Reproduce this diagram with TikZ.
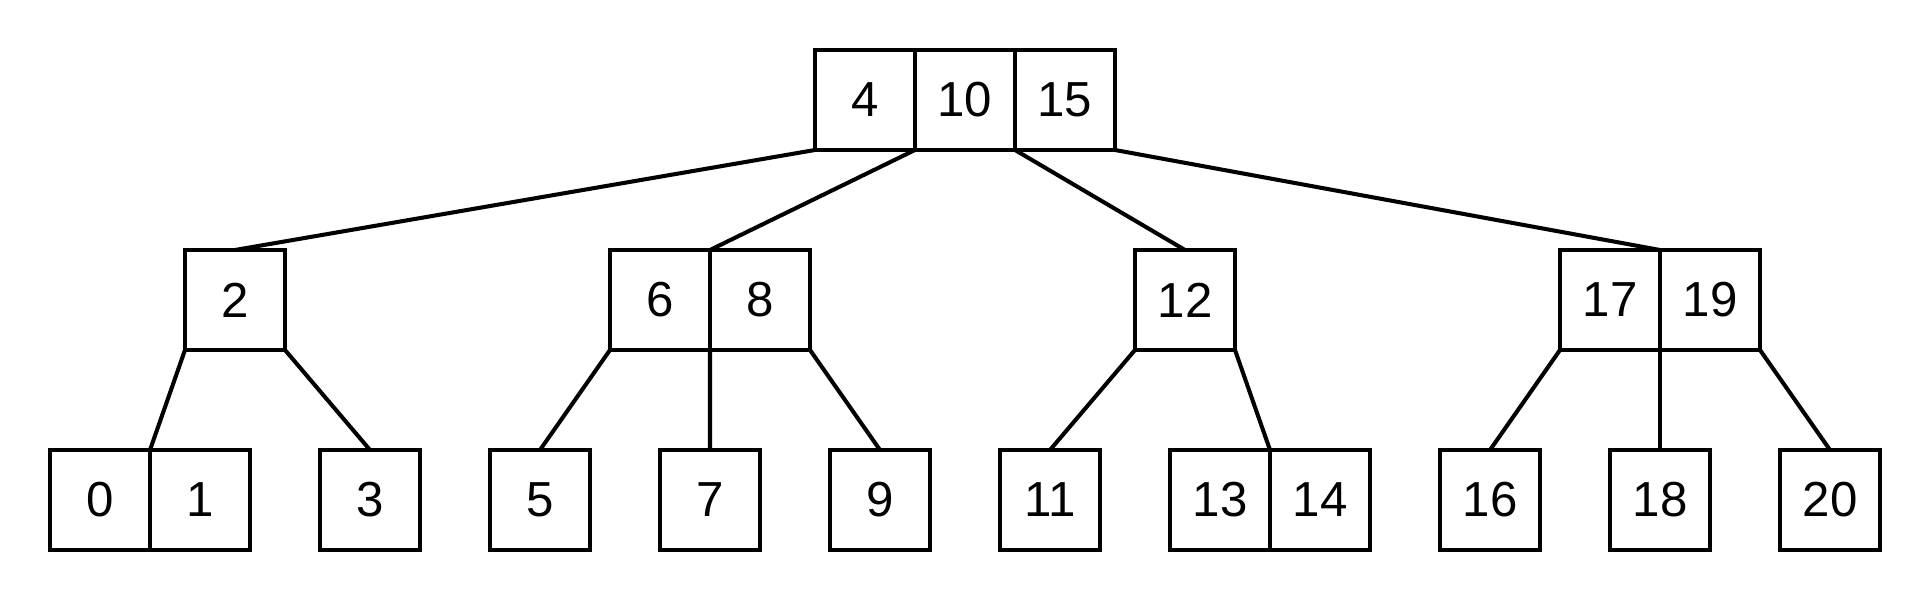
\documentclass[tikz,border=0pt]{standalone}
\usepackage{fontspec}
\setmainfont{Liberation Sans}
\usepackage{tikz}
\usetikzlibrary{positioning}

\tikzset{
  cell/.style={draw,line width=1.15pt,minimum size=1cm,inner sep=0pt,outer sep=0pt,font=\fontsize{14}{16}\selectfont},
  link/.style={line width=1.15pt}
}

\begin{document}
\begin{tikzpicture}
  \useasboundingbox (0,0) rectangle (19.3,6);
  % root
  \node[cell] (k4) at (8.65,5) {4};
  \node[cell,right=0pt of k4] (k10) {10};
  \node[cell,right=0pt of k10] (k15) {15};
  % second level
  \node[cell] (k2) at (2.35,3) {2};
  \node[cell] (k6) at (6.6,3) {6};
  \node[cell,right=0pt of k6] (k8) {8};
  \node[cell] (k12) at (11.85,3) {12};
  \node[cell] (k17) at (16.1,3) {17};
  \node[cell,right=0pt of k17] (k19) {19};
  % leaves
  \node[cell] (k0) at (1,1) {0};
  \node[cell,right=0pt of k0] (k1) {1};
  \node[cell] (k3) at (3.7,1) {3};
  \node[cell] (k5) at (5.4,1) {5};
  \node[cell] (k7) at (7.1,1) {7};
  \node[cell] (k9) at (8.8,1) {9};
  \node[cell] (k11) at (10.5,1) {11};
  \node[cell] (k13) at (12.2,1) {13};
  \node[cell,right=0pt of k13] (k14) {14};
  \node[cell] (k16) at (14.9,1) {16};
  \node[cell] (k18) at (16.6,1) {18};
  \node[cell] (k20) at (18.3,1) {20};
  % links
  \draw[link] (k4.south west) -- (k2.north);
  \draw[link] (k4.south east) -- (k6.north east);
  \draw[link] (k15.south west) -- (k12.north);
  \draw[link] (k15.south east) -- (k17.north east);
  \draw[link] (k2.south west) -- (k0.north east);
  \draw[link] (k2.south east) -- (k3.north);
  \draw[link] (k6.south west) -- (k5.north);
  \draw[link] (k6.south east) -- (k7.north);
  \draw[link] (k8.south east) -- (k9.north);
  \draw[link] (k12.south west) -- (k11.north);
  \draw[link] (k12.south east) -- (k13.north east);
  \draw[link] (k17.south west) -- (k16.north);
  \draw[link] (k17.south east) -- (k18.north);
  \draw[link] (k19.south east) -- (k20.north);
\end{tikzpicture}
\end{document}
